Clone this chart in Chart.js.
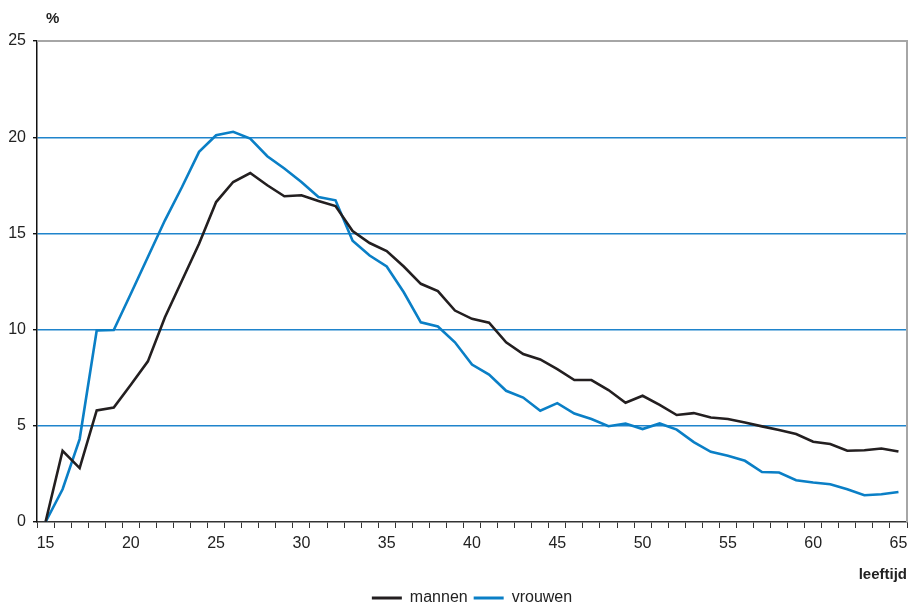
<!DOCTYPE html>
<html>
<head>
<meta charset="utf-8">
<script src="https://cdn.jsdelivr.net/npm/chart.js@4/dist/chart.umd.min.js"></script>
<style>
  body { margin: 0; background: #fff; }
  canvas { display: block; }
</style>
</head>
<body>
<canvas id="leeftijdChart" width="908" height="606"></canvas>
<script>
var ages = [];
for (var a = 15; a <= 65; a++) ages.push(String(a));

var mannen = [0, 3.7, 2.8, 5.8, 5.95, 7.13, 8.35, 10.64, 12.55, 14.46, 16.63, 17.67, 18.14, 17.5, 16.93, 16.98,
  16.68, 16.42, 15.12, 14.5, 14.08, 13.28, 12.38, 12.0, 10.99, 10.56, 10.36, 9.34, 8.73, 8.45, 7.95, 7.38,
  7.38, 6.86, 6.2, 6.56, 6.09, 5.56, 5.66, 5.43, 5.35, 5.17, 4.97, 4.78, 4.57, 4.17, 4.05, 3.7, 3.73, 3.82, 3.66];

var vrouwen = [0, 1.7, 4.31, 9.95, 9.98, 11.86, 13.77, 15.68, 17.41, 19.24, 20.1, 20.28, 19.93, 19.01, 18.37, 17.67,
  16.89, 16.72, 14.62, 13.85, 13.28, 11.94, 10.38, 10.16, 9.34, 8.18, 7.66, 6.82, 6.47, 5.78, 6.18, 5.64,
  5.35, 4.98, 5.12, 4.83, 5.12, 4.8, 4.15, 3.65, 3.44, 3.18, 2.6, 2.57, 2.17, 2.05, 1.96, 1.7, 1.39, 1.44, 1.56];

var fontFam = '"Liberation Sans", Arial, sans-serif';

// "%" label above the y axis and the grey top/right frame
var extras = {
    id: 'extras',
    beforeDatasetsDraw: function(chart) {
        var ctx = chart.ctx, ca = chart.chartArea;
        ctx.save();
        ctx.strokeStyle = '#a6a6a6';
        ctx.lineWidth = 2;
        ctx.beginPath();
        ctx.moveTo(ca.left, ca.top);
        ctx.lineTo(ca.right, ca.top);
        ctx.lineTo(ca.right, ca.bottom);
        ctx.stroke();
        ctx.restore();
    },
    afterDraw: function(chart) {
        var ctx = chart.ctx;
        ctx.save();
        ctx.font = 'bold 15px ' + fontFam;
        ctx.fillStyle = '#222';
        ctx.textBaseline = 'middle';
        ctx.fillText('%', 46, 19);
        ctx.restore();
    }
};

var canvas = document.getElementById('leeftijdChart');
var chart = new Chart(canvas, {
    type: 'line',
    data: {
        labels: ages,
        datasets: [{
            label: 'mannen',
            data: mannen,
            borderColor: '#231f20',
            backgroundColor: '#231f20',
            borderWidth: 2.6,
            pointRadius: 0,
            fill: false
        }, {
            label: 'vrouwen',
            data: vrouwen,
            borderColor: '#0a7fc6',
            backgroundColor: '#0a7fc6',
            borderWidth: 2.6,
            pointRadius: 0,
            fill: false
        }]
    },
    options: {
        responsive: false,
        animation: false,
        layout: {
            padding: { top: 41, right: 1, left: 0, bottom: -10 }
        },
        plugins: {
            tooltip: { enabled: false },
            legend: {
                position: 'bottom',
                fullSize: false,
                labels: {
                    font: { family: fontFam, size: 16 },
                    color: '#222',
                    boxWidth: 30,
                    boxHeight: 3,
                    padding: 6,
                    generateLabels: function(chart) {
                        return Chart.defaults.plugins.legend.labels.generateLabels(chart).map(function(item) {
                            item.lineWidth = 0;
                            return item;
                        });
                    }
                }
            }
        },
        scales: {
            x: {
                type: 'category',
                offset: true,
                border: { color: '#333', width: 1.5 },
                grid: {
                    offset: true,
                    drawOnChartArea: false,
                    drawTicks: true,
                    tickLength: 6,
                    tickColor: '#333'
                },
                ticks: {
                    autoSkip: false,
                    maxRotation: 0,
                    padding: 0,
                    color: '#222',
                    // tall line height pushes the labels down without widening the side padding
                    font: { family: fontFam, size: 16, lineHeight: 2 },
                    callback: function(value, index) {
                        var lab = ages[index];
                        return Number(lab) % 5 === 0 ? lab : '';
                    }
                },
                title: {
                    display: true,
                    text: 'leeftijd',
                    align: 'end',
                    color: '#222',
                    font: { family: fontFam, size: 15, weight: 'bold' },
                    padding: { top: 0, bottom: 0 }
                },
                afterFit: function(scale) { scale.height = 62; }
            },
            y: {
                min: 0,
                max: 25,
                border: { color: '#111', width: 1.5 },
                grid: {
                    color: function(c) {
                        var v = c.tick ? c.tick.value : 0;
                        return (v === 0 || v === 25) ? 'rgba(0,0,0,0)' : '#1f84cc';
                    },
                    lineWidth: 1.4,
                    tickLength: 4,
                    tickColor: '#111'
                },
                ticks: {
                    stepSize: 5,
                    padding: 7,
                    color: '#222',
                    font: { family: fontFam, size: 16 }
                },
                afterFit: function(scale) { scale.width = 37; }
            }
        }
    },
    plugins: [extras]
});
</script>
</body>
</html>
